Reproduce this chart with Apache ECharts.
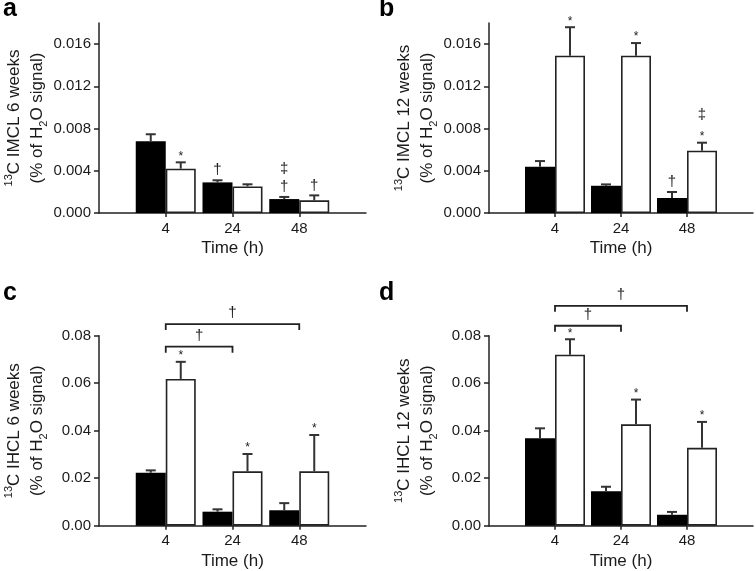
<!DOCTYPE html>
<html>
<head>
<meta charset="utf-8">
<script src="https://cdn.jsdelivr.net/npm/echarts@6/dist/echarts.min.js"></script>
<style>
html, body { margin: 0; padding: 0; background: #fff; }
#main { width: 756px; height: 571px; }
</style>
</head>
<body>
<div id="main"></div>
<script>
// time points (h)
var times = ['4', '24', '48'];

// a: 13C IMCL 6 weeks
var imcl6Filled = [0.0068, 0.0029, 0.00132];
var imcl6FilledErr = [0.00066, 0.0002, 0.0002];
var imcl6Open = [0.0042, 0.00252, 0.0012];
var imcl6OpenErr = [0.0006, 0.0002, 0.00047];
var imcl6FilledMarks = [[], ['†'], ['†', '‡']];
var imcl6OpenMarks = [['*'], [], ['†']];

// b: 13C IMCL 12 weeks
var imcl12Filled = [0.00438, 0.00258, 0.00142];
var imcl12FilledErr = [0.00054, 0.00013, 0.00057];
var imcl12Open = [0.0149, 0.0149, 0.0059];
var imcl12OpenErr = [0.0027, 0.0012, 0.00076];
var imcl12FilledMarks = [[], [], ['†']];
var imcl12OpenMarks = [['*'], ['*'], ['*', '‡']];

// c: 13C IHCL 6 weeks
var ihcl6Filled = [0.0223, 0.0059, 0.0065];
var ihcl6FilledErr = [0.001, 0.001, 0.003];
var ihcl6Open = [0.0618, 0.0229, 0.0229];
var ihcl6OpenErr = [0.0072, 0.0073, 0.0153];
var ihcl6FilledMarks = [[], [], []];
var ihcl6OpenMarks = [['*'], ['*'], ['*']];
var ihcl6Brackets = [[0, 2, '†'], [0, 1, '†']];

// d: 13C IHCL 12 weeks
var ihcl12Filled = [0.0368, 0.0145, 0.0046];
var ihcl12FilledErr = [0.0042, 0.0019, 0.0012];
var ihcl12Open = [0.072, 0.0427, 0.0328];
var ihcl12OpenErr = [0.0065, 0.0104, 0.0109];
var ihcl12FilledMarks = [[], [], []];
var ihcl12OpenMarks = [['*'], ['*'], ['*']];
var ihcl12Brackets = [[0, 2, '†'], [0, 1, '†']];

// y tick labels
var imclTicks = [0, 0.004, 0.008, 0.012, 0.016];
var ihclTicks = [0, 0.02, 0.04, 0.06, 0.08];

var FONT = 'Liberation Sans, Arial, sans-serif';
var INK = '#1a1a1a';
var cats = [''].concat(times, ['']);

var panels = [
  { letter: 'a', grid: { left: 99, top: 23, width: 267, height: 190 },
    max: 0.018, step: 0.004, ticks: imclTicks, dec: 3, name: 'IMCL 6 weeks',
    filled: imcl6Filled, filledErr: imcl6FilledErr, open: imcl6Open, openErr: imcl6OpenErr,
    filledMarks: imcl6FilledMarks, openMarks: imcl6OpenMarks, brackets: [], bracketY: [] },
  { letter: 'b', grid: { left: 489, top: 23, width: 264, height: 190 },
    max: 0.018, step: 0.004, ticks: imclTicks, dec: 3, name: 'IMCL 12 weeks',
    filled: imcl12Filled, filledErr: imcl12FilledErr, open: imcl12Open, openErr: imcl12OpenErr,
    filledMarks: imcl12FilledMarks, openMarks: imcl12OpenMarks, brackets: [], bracketY: [] },
  { letter: 'c', grid: { left: 99, top: 335.7, width: 267, height: 190 },
    max: 0.08, step: 0.02, ticks: ihclTicks, dec: 2, name: 'IHCL 6 weeks',
    filled: ihcl6Filled, filledErr: ihcl6FilledErr, open: ihcl6Open, openErr: ihcl6OpenErr,
    filledMarks: ihcl6FilledMarks, openMarks: ihcl6OpenMarks, brackets: ihcl6Brackets, bracketY: [0.0849, 0.0754] },
  { letter: 'd', grid: { left: 489, top: 335.7, width: 264, height: 190 },
    max: 0.08, step: 0.02, ticks: ihclTicks, dec: 2, name: 'IHCL 12 weeks',
    filled: ihcl12Filled, filledErr: ihcl12FilledErr, open: ihcl12Open, openErr: ihcl12OpenErr,
    filledMarks: ihcl12FilledMarks, openMarks: ihcl12OpenMarks, brackets: ihcl12Brackets, bracketY: [0.0926, 0.0842] }
];

function padded(arr) {
  return ['-'].concat(arr, ['-']);
}

function errSeries(i, means, errs, marks, offset) {
  return {
    type: 'custom', xAxisIndex: i, yAxisIndex: i, z: 5,
    data: means.map(function (m, k) { return [k + 1, m, errs[k]]; }),
    renderItem: function (params, api) {
      var x = api.value(0), m = api.value(1), e = api.value(2);
      var top = api.coord([x, m]);
      var cap = api.coord([x, m + e]);
      var cx = top[0] + offset;
      var kids = [
        { type: 'line', shape: { x1: cx, y1: top[1], x2: cx, y2: cap[1] }, style: { stroke: '#333', lineWidth: 2 } },
        { type: 'line', shape: { x1: cx - 5, y1: cap[1], x2: cx + 5, y2: cap[1] }, style: { stroke: '#333', lineWidth: 2 } }
      ];
      var y = cap[1] - 10;
      (marks[params.dataIndex] || []).forEach(function (s) {
        var star = s === '*';
        kids.push({ type: 'text', style: {
          text: s, x: cx, y: star ? y + 4 : y, align: 'center', verticalAlign: 'middle',
          fontSize: star ? 12 : 15, fontFamily: FONT, fill: INK } });
        y -= 18;
      });
      return { type: 'group', children: kids };
    }
  };
}

function bracketSeries(i, p) {
  return {
    type: 'custom', xAxisIndex: i, yAxisIndex: i, z: 5,
    data: p.brackets.map(function (b) { return [b[0] + 1, b[1] + 1]; }),
    renderItem: function (params, api) {
      var b = p.brackets[params.dataIndex];
      var yv = p.bracketY[params.dataIndex];
      var a = api.coord([b[0] + 1, yv]);
      var c = api.coord([b[1] + 1, yv]);
      var st = { stroke: '#222', lineWidth: 1.8, fill: null };
      return { type: 'group', children: [
        { type: 'polyline', shape: { points: [[a[0], a[1] + 6], [a[0], a[1]], [c[0], c[1]], [c[0], c[1] + 6]] }, style: st },
        { type: 'text', style: { text: b[2], x: (a[0] + c[0]) / 2, y: a[1] - 11, align: 'center',
          verticalAlign: 'middle', fontSize: 15, fontFamily: FONT, fill: INK } }
      ] };
    }
  };
}

var grids = [], xAxes = [], yAxes = [], series = [], graphics = [];

panels.forEach(function (p, i) {
  grids.push(Object.assign({ outerBoundsMode: 'none' }, p.grid));
  xAxes.push({
    type: 'category', gridIndex: i, data: cats, boundaryGap: false,
    axisLine: { lineStyle: { color: '#222', width: 1.5 } },
    axisTick: { show: true, length: 4, lineStyle: { color: '#222', width: 1.5 },
      interval: function (idx, v) { return v !== ''; } },
    axisLabel: { interval: 0, fontSize: 15, fontFamily: FONT, color: INK, margin: 8 },
    splitLine: { show: false },
    name: 'Time (h)', nameLocation: 'middle', nameGap: 27,
    nameTextStyle: { fontSize: 17, fontFamily: FONT, color: INK }
  });
  yAxes.push({
    type: 'value', gridIndex: i, min: 0, max: p.max, interval: p.step,
    axisLine: { show: true, lineStyle: { color: '#222', width: 1.5 } },
    axisTick: { show: true, length: 5, customValues: p.ticks, lineStyle: { color: '#222', width: 1.5 } },
    axisLabel: { customValues: p.ticks, fontSize: 15, fontFamily: FONT, color: INK, margin: 8,
      formatter: function (v) { return v.toFixed(p.dec); } },
    splitLine: { show: false },
    name: '{sup|13}C ' + p.name + '\n(% of H{sub|2}O signal)',
    nameLocation: 'middle', nameRotate: 90, nameGap: 50,
    nameTextStyle: { fontSize: 17, fontFamily: FONT, color: INK, lineHeight: 23, align: 'center',
      rich: {
        sup: { fontSize: 11, fontFamily: FONT, color: INK, verticalAlign: 'top', lineHeight: 11 },
        sub: { fontSize: 11, fontFamily: FONT, color: INK, verticalAlign: 'bottom', lineHeight: 11 }
      } }
  });
  series.push({
    type: 'bar', xAxisIndex: i, yAxisIndex: i, data: padded(p.filled),
    barWidth: 30, barGap: '0%', itemStyle: { color: '#000' }
  });
  series.push({
    type: 'bar', xAxisIndex: i, yAxisIndex: i, data: padded(p.open),
    barWidth: 30, barGap: '0%', itemStyle: { color: '#fff', borderColor: '#222', borderWidth: 1.6 }
  });
  series.push(errSeries(i, p.filled, p.filledErr, p.filledMarks, -15));
  series.push(errSeries(i, p.open, p.openErr, p.openMarks, 15));
  if (p.brackets.length) series.push(bracketSeries(i, p));
  graphics.push({
    type: 'text', left: i % 2 ? 379 : 3, top: i < 2 ? -3 : 281,
    style: { text: p.letter, fontSize: 25, fontWeight: 'bold', fontFamily: FONT, fill: '#000' }
  });
});

var chart = echarts.init(document.getElementById('main'));
chart.setOption({
  animation: false,
  grid: grids,
  xAxis: xAxes,
  yAxis: yAxes,
  series: series,
  graphic: graphics
});
</script>
</body>
</html>
